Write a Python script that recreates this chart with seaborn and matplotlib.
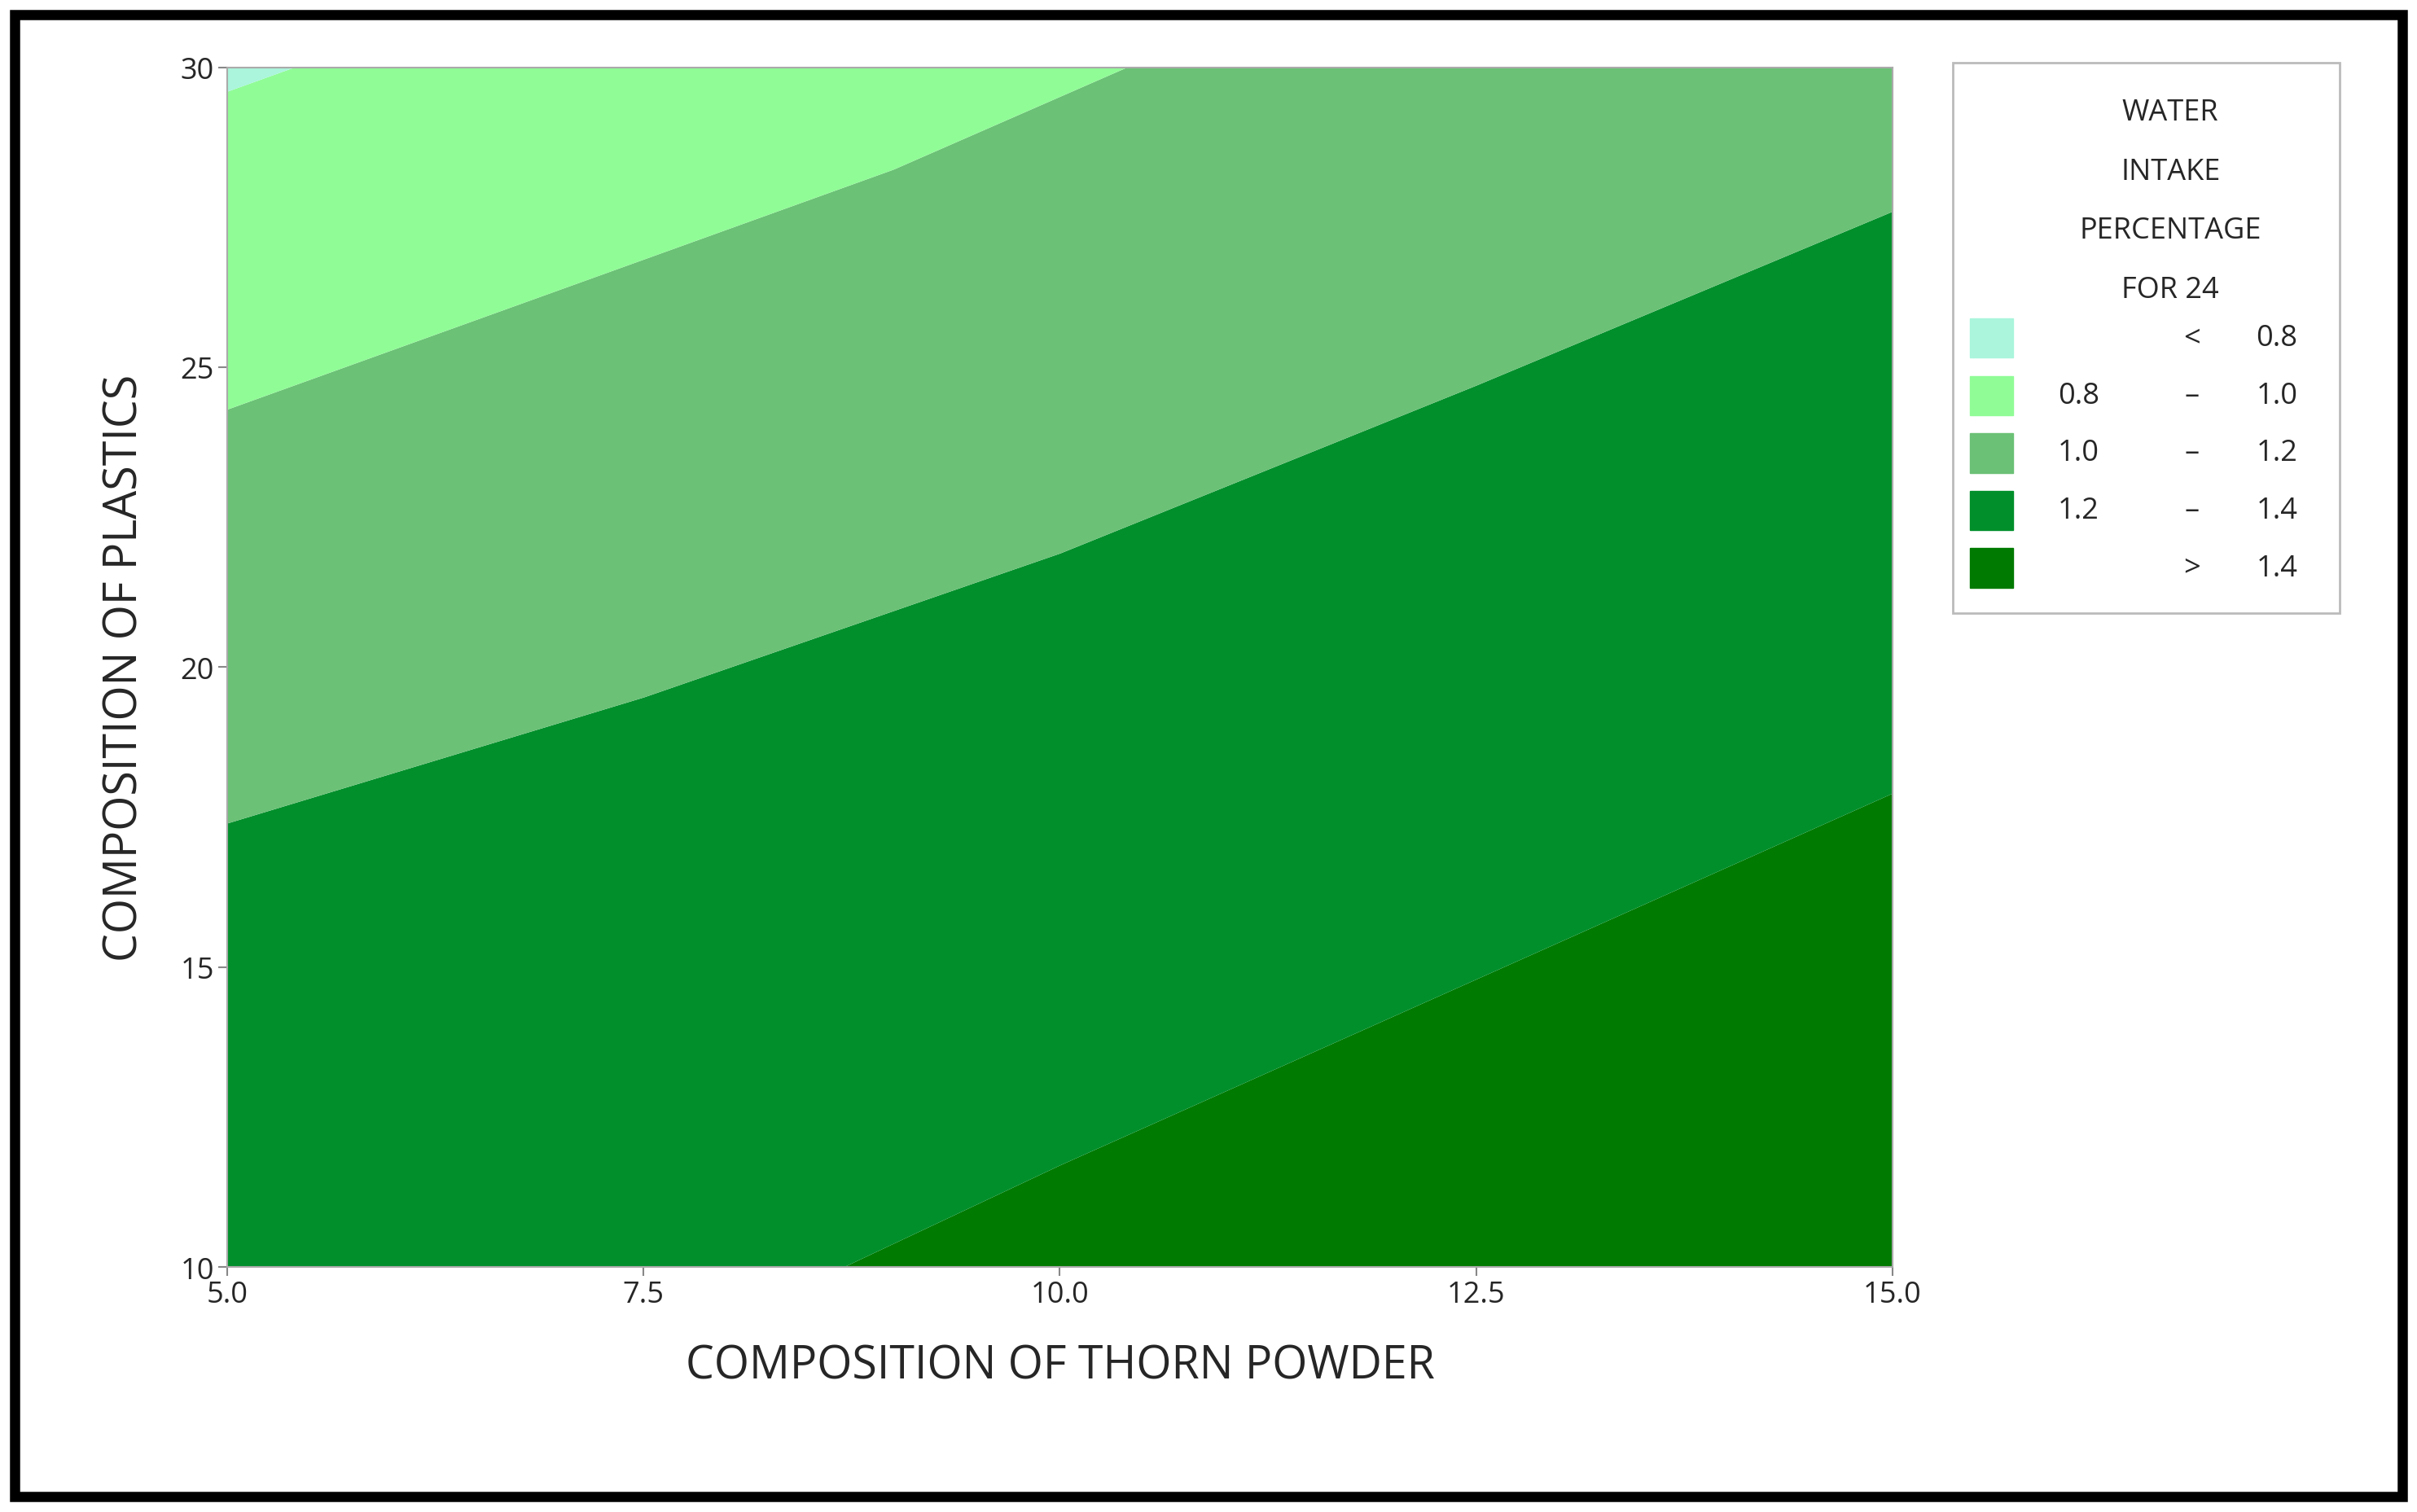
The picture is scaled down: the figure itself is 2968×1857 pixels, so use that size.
import numpy as np
import matplotlib
matplotlib.use("Agg")
import matplotlib.pyplot as plt
from matplotlib.patches import Rectangle
import seaborn as sns

sns.set_theme(style="white")
plt.rcParams['font.family'] = ['Open Sans', 'DejaVu Sans']

# contour boundaries (thorn powder x, plastics y)
b08_x = [5.0, 5.4]
b08_y = [29.6, 30.0]
b10_x = [5.0, 6.2, 7.5, 9.0, 10.4]
b10_y = [24.3, 25.5, 26.8, 28.3, 30.0]
b12_x = [5.0, 7.5, 10.0, 12.5, 15.0]
b12_y = [17.4, 19.5, 21.9, 24.7, 27.6]
b14_x = [8.7, 10.0, 12.5, 15.0]
b14_y = [10.0, 11.7, 14.8, 17.9]

levels = ["< 0.8", "0.8 – 1.0", "1.0 – 1.2", "1.2 – 1.4", "> 1.4"]
lev_lo = ["", "0.8", "1.0", "1.2", ""]
lev_sym = ["<", "–", "–", "–", ">"]
lev_hi = ["0.8", "1.0", "1.2", "1.4", "1.4"]
colors = ["#aaf5dc", "#90fc96", "#6bc176", "#008f2b", "#007a00"]

x = np.linspace(5, 15, 600)

def curve(bx, by):
    y = np.interp(x, bx, by, left=np.nan, right=np.nan)
    return y

y08 = np.where(x <= b08_x[-1], curve(b08_x, b08_y), 30.0)
y10 = np.where(x <= b10_x[-1], curve(b10_x, b10_y), 30.0)
y12 = curve(b12_x, b12_y)
y14 = np.where(x >= b14_x[0], curve(b14_x, b14_y), 10.0)

fig = plt.figure(figsize=(29.68, 18.58), dpi=100)
ax = fig.add_axes([0.094, 0.162, 0.689, 0.793])
ax.fill_between(x, 10, y14, color=colors[4], lw=0)
ax.fill_between(x, y14, y12, color=colors[3], lw=0)
ax.fill_between(x, y12, y10, color=colors[2], lw=0)
ax.fill_between(x, y10, y08, color=colors[1], lw=0)
ax.fill_between(x, y08, 30, color=colors[0], lw=0)

ax.set_xlim(5, 15)
ax.set_ylim(10, 30)
ax.set_xticks([5.0, 7.5, 10.0, 12.5, 15.0])
ax.set_xticklabels(["5.0", "7.5", "10.0", "12.5", "15.0"])
ax.set_yticks([10, 15, 20, 25, 30])
ax.tick_params(labelsize=26, length=8, width=1.5, direction="out", bottom=True, left=True, color="#888888")
for s in ax.spines.values():
    s.set_color("#aaaaaa")
    s.set_linewidth(1.5)
ax.set_xlabel("COMPOSITION OF THORN POWDER", fontsize=40, labelpad=30)
ax.set_ylabel("COMPOSITION OF PLASTICS", fontsize=40, labelpad=28)

# legend box
fig.patches.append(Rectangle((0.808, 0.594), 0.16, 0.364, transform=fig.transFigure,
                             fill=False, edgecolor="#bbbbbb", lw=2))
title = ["WATER", "INTAKE", "PERCENTAGE", "FOR 24"]
for i, t in enumerate(title):
    fig.text(0.898, 0.925 - i * 0.039, t, ha="center", va="center", fontsize=26)
for i in range(len(levels)):
    yy = 0.776 - i * 0.038
    fig.patches.append(Rectangle((0.815, yy - 0.013), 0.018, 0.026, transform=fig.transFigure,
                                 color=colors[i]))
    fig.text(0.860, yy, lev_lo[i], ha="center", va="center", fontsize=26)
    fig.text(0.907, yy, lev_sym[i], ha="center", va="center", fontsize=26)
    fig.text(0.942, yy, lev_hi[i], ha="center", va="center", fontsize=26)

# outer black frame
fig.patches.append(Rectangle((0.006, 0.01), 0.988, 0.98, transform=fig.transFigure,
                             fill=False, edgecolor="black", lw=9))

fig.savefig("out.png", dpi=100)
